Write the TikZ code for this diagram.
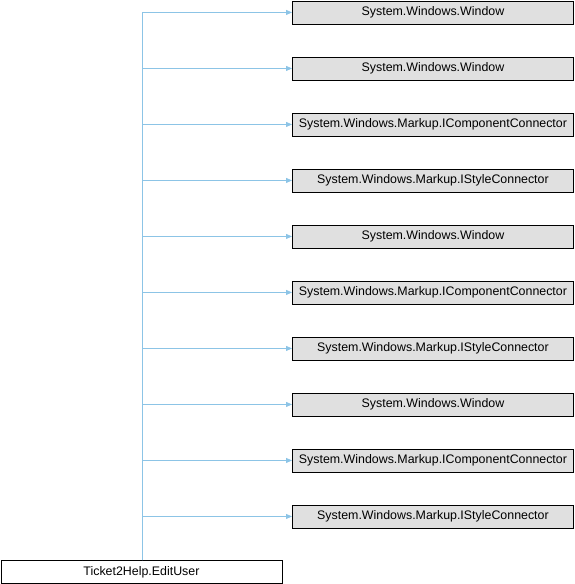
\documentclass[tikz,border=0pt]{standalone}
\usepackage{fontspec}
\setmainfont{Liberation Sans}
\usetikzlibrary{arrows.meta}
\definecolor{edgeblue}{RGB}{140,196,230}
\definecolor{boxgray}{RGB}{224,224,224}
\begin{document}
\begin{tikzpicture}[x=1pt,y=-1pt,
  base/.style={draw=black,line width=0.9pt,minimum height=23pt,inner sep=0pt,font=\fontsize{12.4}{14}\selectfont,anchor=north west},
  parent/.style={base,fill=boxgray,minimum width=281pt},
  child/.style={base,fill=white,minimum width=281pt},
  link/.style={draw=edgeblue,line width=0.8pt,-{Triangle[length=6pt,width=5pt]}}]
\useasboundingbox (0,0) rectangle (574,584);
\node[child] (ed) at (0.5,560) {Ticket2Help.EditUser};
\foreach \i/\t in {1/System.Windows.Window,2/System.Windows.Window,3/System.Windows.Markup.IComponentConnector,4/System.Windows.Markup.IStyleConnector,5/System.Windows.Window,6/System.Windows.Markup.IComponentConnector,7/System.Windows.Markup.IStyleConnector,8/System.Windows.Window,9/System.Windows.Markup.IComponentConnector,10/System.Windows.Markup.IStyleConnector}{
  \node[parent] (p\i) at (292,{0.5+56*(\i-1)}) {\t};
  \draw[link] ([xshift=1.2pt]ed.north) |- (p\i.west);
}
\end{tikzpicture}
\end{document}
